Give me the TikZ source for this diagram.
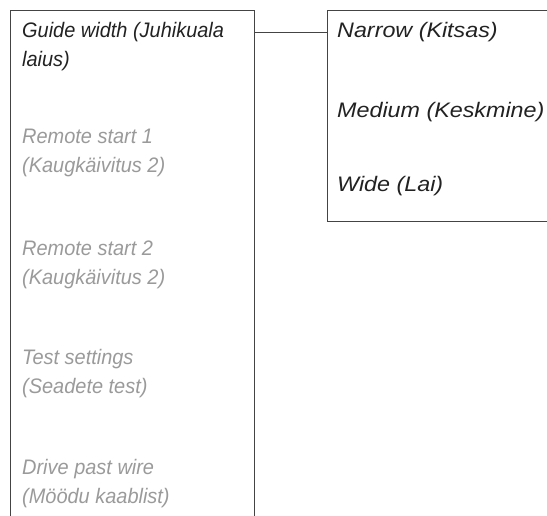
\documentclass[tikz,border=0pt]{standalone}
\usepackage{fontspec}
\setmainfont{Liberation Sans}
\newfontfamily\menufont[FakeStretch=0.95]{Liberation Sans}
\newfontfamily\subfont[FakeStretch=1.11]{Liberation Sans}
\definecolor{frame}{HTML}{444444}
\definecolor{active}{HTML}{222222}
\definecolor{inactive}{HTML}{9A9A9A}
\tikzset{
  box/.style={draw=frame, line width=1.4pt, inner sep=0pt, anchor=north west},
  item/.style={anchor=base west, inner sep=0pt, align=left},
  menuitem/.style={item, font=\menufont\fontsize{21}{29}\selectfont\itshape},
  subitem/.style={item, text=active, font=\subfont\fontsize{21}{29}\selectfont\itshape},
  on/.style={menuitem, text=active},
  off/.style={menuitem, text=inactive},
  link/.style={draw=frame, line width=1.4pt}
}
\begin{document}
\begin{tikzpicture}[x=1pt,y=-1pt]
\useasboundingbox (0,0) rectangle (547,516);
\clip (0,0) rectangle (547,516);
\node[box, minimum width=244pt, minimum height=540pt] (menu) at (10,10) {};
\node[box, minimum width=240pt, minimum height=211pt] (sub) at (327,10) {};
\node[on]  (guide)  at (22,67)  {Guide width (Juhikuala\\laius)};
\node[off] (rs1)    at (22,173) {Remote start 1\\(Kaugkäivitus 2)};
\node[off] (rs2)    at (22,284) {Remote start 2\\(Kaugkäivitus 2)};
\node[off] (test)   at (22,393) {Test settings\\(Seadete test)};
\node[off] (drive)  at (22,503) {Drive past wire\\(Möödu kaablist)};
\node[subitem] (narrow) at (337,38)  {Narrow (Kitsas)};
\node[subitem] (medium) at (337,118) {Medium (Keskmine)};
\node[subitem] (wide)   at (337,192) {Wide (Lai)};
\draw[link] (menu.east |- narrow.center) -- (sub.west |- narrow.center);
\end{tikzpicture}
\end{document}
